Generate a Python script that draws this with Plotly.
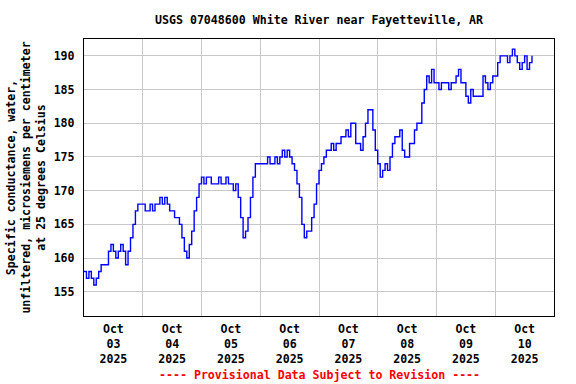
import pandas as pd
import plotly.graph_objects as go

# ---- data (hourly readings) ----
start_time = "2025-10-03 00:00"
conductance = [
    158,157,158,157,156,157,158,159,159,159,161,162,161,160,161,162,161,159,161,163,165,167,168,168,
    168,167,167,168,167,168,168,169,168,169,168,167,167,166,166,165,163,161,160,162,164,167,169,171,
    172,171,172,172,171,171,171,172,171,171,172,171,171,170,171,169,166,163,164,166,169,172,174,174,
    174,174,174,175,174,174,175,174,175,176,175,176,175,174,173,171,169,165,163,164,164,166,168,171,
    173,174,175,176,176,177,176,177,177,178,178,179,178,180,180,177,177,176,178,180,182,182,179,176,
    174,172,173,174,173,175,177,178,178,179,176,175,175,177,177,179,180,180,183,185,187,186,188,186,
    186,185,186,186,186,185,186,186,187,188,186,186,184,183,185,184,184,184,184,187,186,185,186,187,
    187,189,190,190,190,189,190,191,190,189,188,189,190,188,189,190,
]
times = pd.date_range(start_time, periods=len(conductance), freq="h")

day_starts = ["2025-10-03","2025-10-04","2025-10-05","2025-10-06","2025-10-07",
              "2025-10-08","2025-10-09","2025-10-10","2025-10-11"]
label_times = ["2025-10-03 12:00","2025-10-04 12:00","2025-10-05 12:00","2025-10-06 12:00",
               "2025-10-07 12:00","2025-10-08 12:00","2025-10-09 12:00","2025-10-10 12:00"]
tick_labels = ["Oct<br>03<br>2025","Oct<br>04<br>2025","Oct<br>05<br>2025","Oct<br>06<br>2025",
               "Oct<br>07<br>2025","Oct<br>08<br>2025","Oct<br>09<br>2025","Oct<br>10<br>2025"]
y_ticks = [155, 160, 165, 170, 175, 180, 185, 190]

title_text = "USGS 07048600 White River near Fayetteville, AR"
y_title = "Specific conductance, water,<br>unfiltered, microsiemens per centimeter<br>at 25 degrees Celsius"
footer = "---- Provisional Data Subject to Revision ----"

FONT = "DejaVu Sans Mono"
FS = 11.6

fig = go.Figure()
fig.add_trace(go.Scatter(
    x=times, y=conductance, mode="lines",
    line=dict(color="#0000ff", width=1.4, shape="hv"),
    hoverinfo="skip", showlegend=False,
))

fig.update_layout(
    width=576, height=384,
    margin=dict(l=84, r=22, t=39, b=68),
    paper_bgcolor="white", plot_bgcolor="white",
    font=dict(family=FONT, size=FS, color="black"),
    showlegend=False,
)

fig.update_xaxes(
    type="date",
    range=[day_starts[0], day_starts[-1]],
    tickmode="array", tickvals=label_times, ticktext=tick_labels,
    showgrid=False, ticks="outside", ticklen=2, tickcolor="rgba(0,0,0,0)",
    tickfont=dict(family=FONT, size=FS, color="black", weight="bold"),
    minor=dict(tickmode="array", tickvals=day_starts, showgrid=True,
               gridcolor="#c8c8c8", gridwidth=1, ticks=""),
    showline=True, linecolor="black", linewidth=1.2, mirror=True,
    zeroline=False, fixedrange=True,
)
fig.update_yaxes(
    range=[151.4, 192.5],
    tickmode="array", tickvals=y_ticks, ticktext=[str(v) for v in y_ticks],
    showgrid=True, gridcolor="#c8c8c8", gridwidth=1,
    ticks="outside", ticklen=6, tickcolor="rgba(0,0,0,0)",
    tickfont=dict(family=FONT, size=FS, color="black", weight="bold"),
    showline=True, linecolor="black", linewidth=1.2, mirror=True,
    zeroline=False, fixedrange=True,
)

fig.add_annotation(
    text=title_text, xref="paper", yref="paper", x=0.5, y=1.0, yshift=19,
    xanchor="center", yanchor="middle", showarrow=False,
    font=dict(family=FONT, size=FS, color="black", weight="bold"),
)
fig.add_annotation(
    text=y_title, xref="paper", yref="paper", x=-0.1253, y=0.5,
    xanchor="center", yanchor="middle", showarrow=False, textangle=-90,
    font=dict(family=FONT, size=FS, color="black", weight="bold"),
)
fig.add_annotation(
    text=footer, xref="paper", yref="paper", x=0.5, y=0.0, yshift=-59,
    xanchor="center", yanchor="middle", showarrow=False,
    font=dict(family=FONT, size=FS, color="#ff0000", weight="bold"),
)

fig.write_html("out.html")
